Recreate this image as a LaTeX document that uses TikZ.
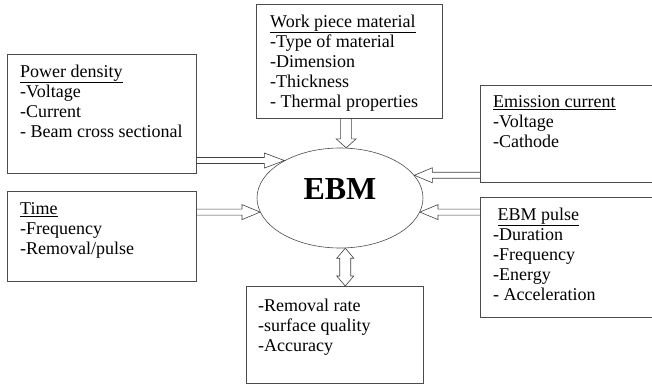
\documentclass[tikz,border=0pt]{standalone}
\usepackage{fontspec}
\setmainfont{Liberation Serif}
\usetikzlibrary{calc,shapes.geometric}

% hollow block arrow: #1 shaft half width, #2 head half width, #3 head length, #4 from, #5 to
\newcommand{\blockarrow}[5]{%
  \path[block arrow] let \p1=(#4), \p2=(#5),
    \n1={atan2(\y2-\y1,\x2-\x1)}, \n2={veclen(\x2-\x1,\y2-\y1)} in
    {[shift={(\p1)},rotate=\n1]
      (0pt,#1pt) -- ({\n2-#3pt},#1pt) -- ({\n2-#3pt},#2pt) -- ({\n2+0pt},0pt)
      -- ({\n2-#3pt},-#2pt) -- ({\n2-#3pt},-#1pt) -- (0pt,-#1pt)};
}
\newcommand{\blockarrowboth}[5]{%
  \path[block arrow] let \p1=(#4), \p2=(#5),
    \n1={atan2(\y2-\y1,\x2-\x1)}, \n2={veclen(\x2-\x1,\y2-\y1)} in
    {[shift={(\p1)},rotate=\n1]
      (0pt,0pt) -- (#3pt,#2pt) -- (#3pt,#1pt) -- ({\n2-#3pt},#1pt) -- ({\n2-#3pt},#2pt)
      -- ({\n2+0pt},0pt) -- ({\n2-#3pt},-#2pt) -- ({\n2-#3pt},-#1pt) -- (#3pt,-#1pt)
      -- (#3pt,-#2pt) -- cycle};
}

\begin{document}
\begin{tikzpicture}[x=1pt,y=-1pt,font=\fontsize{18}{20}\selectfont]
    \tikzstyle{box}=[draw=black!70,line width=0.7pt,inner sep=0,anchor=north west]
    \tikzstyle{list}=[inner sep=0,anchor=north west,align=left]
    \tikzstyle{block arrow}=[draw=black!75,line width=0.6pt,line join=miter]
    \tikzstyle{core}=[draw=black!70,line width=0.6pt,ellipse,inner sep=0,minimum width=166,minimum height=100]

    \useasboundingbox (0,0) rectangle (652,386);

    % boxes
    \node[box,minimum width=189,minimum height=119](power) at (7,54){};
    \node[box,minimum width=189,minimum height=90](time) at (7,191){};
    \node[box,minimum width=186,minimum height=114](work) at (256,4){};
    \node[box,minimum width=180,minimum height=97](emission) at (480,85){};
    \node[box,minimum width=180,minimum height=120](pulse) at (480,197){};
    \node[box,minimum width=177,minimum height=97](results) at (246,286){};

    \node[list](powertxt) at (20,64.5){\underline{Power density}\\-Voltage\\-Current\\- Beam cross sectional};
    \node[list](timetxt) at (20,202.5){\underline{Time}\\-Frequency\\-Removal/pulse};
    \node[list](worktxt) at (270,14.5){\underline{Work piece material}\\-Type of material\\-Dimension\\-Thickness\\- Thermal properties};
    \node[list](emissiontxt) at (493,95.5){\underline{Emission current}\\-Voltage\\-Cathode};
    \node[list](pulsetxt) at (493,207.5){\ \underline{EBM pulse}\\-Duration\\-Frequency\\-Energy\\- Acceleration};
    \node[list](resultstxt) at (258,298.5){-Removal rate\\-surface quality\\-Accuracy};

    % centre
    \node[core](ebm) at (340,198){};
    \node[font=\fontsize{32}{36}\selectfont\bfseries](ebmtxt) at ([yshift=9pt]ebm.center){EBM};

    % arrows
    \blockarrow{3}{7.5}{20}{power.east |- ebm.146}{ebm.146}
    \blockarrow{3}{7.5}{18}{time.east |- ebm.190}{ebm.190}
    \blockarrow{3}{7.5}{18}{emission.west |- ebm.17}{ebm.17}
    \blockarrow{3}{7.5}{18}{pulse.west |- ebm.350}{ebm.350}
    \blockarrow{5.5}{10}{9}{ebm.83 |- work.south}{ebm.83}
    \blockarrowboth{5.5}{8.5}{10}{ebm.276}{ebm.276 |- results.north}
\end{tikzpicture}
\end{document}
